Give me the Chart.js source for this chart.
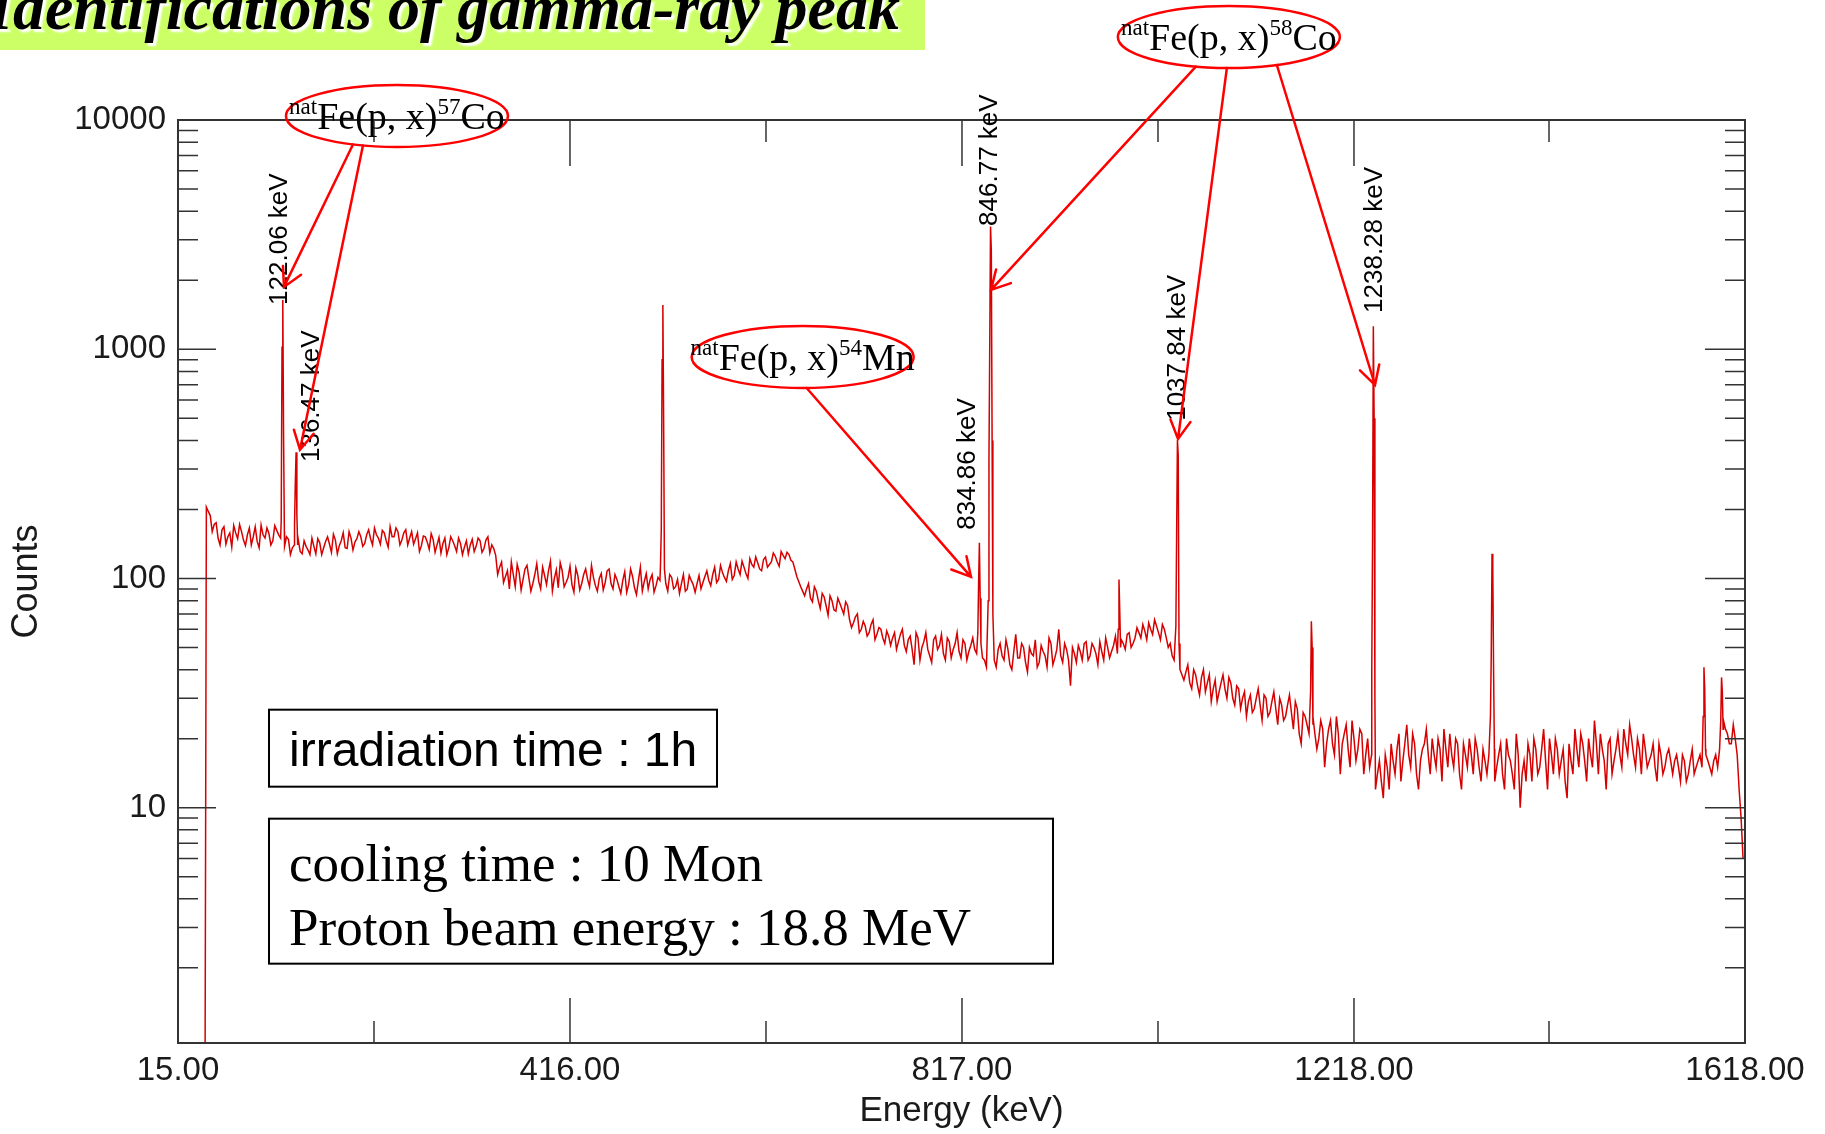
<!DOCTYPE html>
<html>
<head>
<meta charset="utf-8">
<title>Identifications of gamma-ray peak</title>
<script src="https://cdn.jsdelivr.net/npm/chart.js@4.4.1/dist/chart.umd.min.js"></script>
<style>
  html, body { margin: 0; padding: 0; background: #ffffff; }
  #wrap { width: 1825px; height: 1134px; overflow: hidden; }
</style>
</head>
<body>
<div id="wrap"><canvas id="gammaChart" width="1825" height="1134"></canvas></div>
<script>
// background of the spectrum, one reading every 4 keV from 44 keV
const bgStartKeV = 44;
const bgStepKeV = 4;
const bgCounts = [
  205, 188, 172, 150, 163, 141, 158, 170, 149, 160, 139, 166, 152, 145, 171, 150, 157, 146, 162, 150, 138, 148, 136, 150, 131,
  146, 133, 150, 128, 143, 136, 152, 130, 147, 139, 158, 135, 150, 144, 160, 138, 155, 149, 166, 150, 162, 146, 168, 152, 160,
  147, 163, 150, 141, 158, 139, 152, 134, 148, 140, 129, 150, 136, 146, 131, 142, 137, 128, 148, 138, 146, 135, 152, 140, 126,
  112, 96, 108, 118, 92, 106, 99, 114, 88, 104, 97, 112, 94, 119, 100, 91, 108, 96, 113, 87, 103, 95, 110, 92, 101,
  88, 105, 96, 110, 90, 99, 86, 107, 94, 102, 85, 112, 97, 90, 104, 93, 98, 96, 88, 101, 92, 86, 104, 90, 98,
  87, 103, 96, 108, 93, 112, 99, 106, 97, 116, 103, 110, 119, 105, 122, 112, 117, 108, 124, 115, 129, 118, 131, 122, 127,
  118, 102, 92, 84, 95, 79, 88, 74, 83, 69, 80, 72, 78, 70, 76, 61, 68, 58, 65, 56, 63, 54, 61, 55, 59,
  51, 58, 53, 60, 48, 56, 42, 55, 50, 58, 46, 54, 49, 57, 44, 53, 49, 58, 45, 52, 48, 55, 47, 50, 44,
  50, 48, 41, 52, 44, 49, 40, 57, 45, 50, 39, 47, 54, 43, 48, 41, 52, 45, 60, 43, 49, 34, 47, 51, 44,
  53, 46, 50, 42, 48, 55, 45, 51, 47, 54, 49, 58, 52, 61, 55, 59, 64, 57, 62, 54, 60, 50, 46, 48, 40,
  36, 42, 33, 38, 31, 40, 35, 29, 36, 32, 38, 30, 35, 28, 33, 30, 25, 31, 27, 33, 24, 30, 26, 32, 23,
  28, 25, 31, 22, 27, 19, 25, 21, 23, 18, 24, 15, 22, 19, 25, 14, 21, 18, 24, 16, 22, 14, 20, 17, 12,
  16, 11, 15, 19, 14, 21, 16, 23, 15, 19, 12, 18, 22, 14, 17, 20, 13, 18, 21, 15, 19, 12, 17, 20, 14,
  18, 13, 16, 17, 15, 15, 19, 12, 17, 14, 21, 10, 16, 19, 13, 18, 15, 22, 12, 17, 20, 14, 18, 11, 16,
  22, 15, 19, 13, 17, 24, 14, 18, 12, 20, 16, 21, 15, 19, 23, 17, 20, 14, 18, 16, 19, 13, 17, 15, 18,
  14, 17, 13, 16, 14, 18, 15, 17, 19, 16, 14, 17, 18, 24, 21, 19, 20, 12, 6
];

// readings in between, every 4 keV from 46 keV
const bgMidStartKeV = 46;
const bgCountsMid = [
  196, 160, 175, 140, 168, 152, 137, 158, 172, 147, 155, 140, 168, 136, 155, 166, 140, 170, 155, 150, 152, 127, 140, 148, 128,
  138, 127, 138, 149, 127, 145, 141, 156, 128, 146, 136, 160, 133, 149, 152, 142, 163, 140, 155, 141, 158, 137, 152, 166, 140,
  158, 140, 160, 149, 131, 153, 144, 157, 130, 151, 142, 127, 152, 139, 150, 127, 146, 140, 131, 150, 130, 147, 129, 135, 104,
  118, 102, 90, 104, 115, 89, 110, 100, 95, 116, 90, 103, 108, 88, 109, 117, 92, 101, 94, 111, 89, 104, 99, 114, 93,
  100, 89, 108, 95, 104, 92, 98, 87, 110, 91, 98, 88, 105, 99, 87, 101, 97, 95, 104, 90, 99, 95, 88, 103, 94,
  95, 90, 102, 98, 104, 96, 114, 101, 108, 99, 118, 104, 112, 100, 115, 124, 110, 121, 112, 118, 125, 113, 126, 130, 120,
  110, 97, 88, 90, 82, 92, 80, 86, 76, 84, 73, 82, 74, 79, 66, 64, 70, 60, 62, 58, 66, 57, 60, 52, 56,
  55, 49, 57, 51, 54, 49, 58, 44, 53, 49, 43, 56, 51, 47, 55, 45, 52, 48, 54, 44, 51, 49, 50, 45, 41,
  50, 44, 49, 46, 54, 42, 48, 45, 52, 43, 50, 46, 41, 51, 46, 55, 42, 49, 46, 52, 44, 50, 43, 48, 52,
  44, 52, 47, 53, 44, 50, 48, 56, 50, 52, 57, 50, 55, 58, 63, 54, 60, 66, 58, 63, 55, 52, 44, 45, 38,
  39, 35, 40, 34, 37, 32, 38, 33, 29, 35, 33, 37, 30, 34, 27, 32, 29, 26, 30, 28, 31, 25, 29, 27, 30,
  24, 28, 26, 29, 21, 26, 23, 24, 21, 20, 22, 19, 24, 17, 21, 19, 23, 15, 20, 18, 21, 17, 15, 16, 14,
  13, 17, 12, 16, 18, 13, 19, 17, 21, 14, 16, 19, 17, 20, 15, 18, 22, 15, 17, 20, 14, 19, 15, 17, 20,
  15, 18, 14, 16, 13, 17, 14, 20, 16, 12, 17, 14, 13, 17, 20, 14, 18, 16, 20, 14, 18, 16, 13, 19, 14,
  18, 21, 16, 20, 15, 19, 21, 16, 19, 14, 18, 17, 22, 17, 20, 15, 18, 21, 15, 17, 15, 19, 14, 17, 16,
  16, 15, 17, 13, 16, 14, 16, 15, 17, 15, 16, 15, 20, 22, 19, 23, 17, 9
];

// narrow peaks: channel energies (keV) and counts, one group per peak
const peakKeV = [
  [42.6, 43.4],
  [120.6, 121.4, 122.2, 123.0, 123.8],
  [134.2, 135.0, 135.8, 136.6, 137.4],
  [508.6, 509.4, 510.2, 511.0, 511.8, 512.6],
  [833.2, 834.0, 834.8, 835.6, 836.4],
  [843.8, 844.6, 845.4, 846.2, 847.0, 847.8, 848.6],
  [976.8, 977.6, 978.4, 979.2],
  [1035.8, 1036.6, 1037.4, 1038.2, 1039.0],
  [1173.6, 1174.4, 1175.2, 1176.0],
  [1236.2, 1237.0, 1237.8, 1238.6, 1239.4],
  [1357.6, 1358.4, 1359.2, 1360.0, 1360.8, 1361.6],
  [1575.2, 1576.0, 1576.8, 1577.6],
  [1593.2, 1594.0, 1594.8, 1595.6]
];
const peakCounts = [
  [0.5, 15],
  [180, 1020, 1640, 420, 160],
  [170, 260, 355, 190, 140],
  [115, 165, 900, 1560, 480, 110],
  [58, 96, 143, 82, 52],
  [80, 336, 1070, 3430, 2700, 400, 70],
  [60, 99, 72, 50],
  [62, 162, 402, 345, 52],
  [32, 65, 50, 25],
  [40, 146, 1260, 500, 30],
  [25, 45, 128, 110, 40, 18],
  [25, 41, 33, 18],
  [24, 37, 32, 22]
];

// axes
const xTickValues = [15, 416, 817, 1218, 1618];
const xTickLabels = ["15.00", "416.00", "817.00", "1218.00", "1618.00"];
const xMinorValues = [215.5, 616.5, 1017.5, 1417.5];
const yTickValues = [10, 100, 1000, 10000];
const yTickLabels = ["10", "100", "1000", "10000"];

// peak labels (rotated), anchored where the text starts
const labelText = ["122.06 keV", "136.47 keV", "834.86 keV", "846.77 keV", "1037.84 keV", "1238.28 keV"];
const labelKeV = [118.8, 151.8, 822.6, 845.6, 1038, 1239.5];
const labelCounts = [1561, 322, 163, 3450, 487, 1440];

// reactions in the red ellipses
const reactionPre = ["nat", "nat", "nat"];
const reactionMain = ["Fe(p, x)", "Fe(p, x)", "Fe(p, x)"];
const reactionMass = ["57", "58", "54"];
const reactionElement = ["Co", "Co", "Mn"];
const reactionKeV = [239, 1090, 654];
const reactionCounts = [10410, 23010, 925];

// arrows from an ellipse to a peak
const arrowFrom = [0, 0, 1, 1, 1, 2];
const arrowTailDx = [-44, -34, -33, -2, 48, 4];
const arrowTipKeV = [123.4, 139.8, 846.7, 1038, 1239.5, 826.2];
const arrowTipCounts = [1870, 364, 1815, 406, 698, 101.6];

// text boxes
const boxLines = [["irradiation time : 1h"], ["cooling time : 10 Mon", "Proton beam energy : 18.8 MeV"]];
const boxKeV = [108.1, 108.1];
const boxCounts = [26.75, 8.95];

const sans = "'Liberation Sans', Arial, sans-serif";
const serif = "'Liberation Serif', 'Times New Roman', serif";

// merge background and peak channels into one spectrum
const spectrum = [];
const insidePeak = e => peakKeV.some(g => e > g[0] && e < g[g.length - 1]);
bgCounts.forEach((c, i) => {
  const e = bgStartKeV + i * bgStepKeV;
  if (!insidePeak(e)) spectrum.push({ x: e, y: c });
});
bgCountsMid.forEach((c, i) => {
  const e = bgMidStartKeV + i * bgStepKeV;
  if (!insidePeak(e)) spectrum.push({ x: e, y: c });
});
peakKeV.forEach((g, j) => g.forEach((e, k) => spectrum.push({ x: e, y: peakCounts[j][k] })));
spectrum.sort((a, b) => a.x - b.x);

// frame and inward tick marks like the original MCA display
const frameTicks = {
  id: "frameTicks",
  afterDatasetsDraw(chart) {
    const { ctx, chartArea: a, scales: { x, y } } = chart;
    ctx.save();
    ctx.strokeStyle = "#333333";
    ctx.lineWidth = 1.5;
    ctx.beginPath();
    for (let d = 1; d < 10000; d *= 10) {
      for (let m = 2; m <= 9; m++) {
        const py = y.getPixelForValue(d * m);
        if (py > a.bottom || py < a.top) continue;
        ctx.moveTo(a.left, py); ctx.lineTo(a.left + 20, py);
        ctx.moveTo(a.right, py); ctx.lineTo(a.right - 20, py);
      }
    }
    yTickValues.forEach(v => {
      const py = y.getPixelForValue(v);
      ctx.moveTo(a.left, py); ctx.lineTo(a.left + 38, py);
      ctx.moveTo(a.right, py); ctx.lineTo(a.right - 40, py);
    });
    xTickValues.forEach(v => {
      const px = x.getPixelForValue(v);
      ctx.moveTo(px, a.bottom); ctx.lineTo(px, a.bottom - 45);
      ctx.moveTo(px, a.top); ctx.lineTo(px, a.top + 46);
    });
    xMinorValues.forEach(v => {
      const px = x.getPixelForValue(v);
      ctx.moveTo(px, a.bottom); ctx.lineTo(px, a.bottom - 22);
      ctx.moveTo(px, a.top); ctx.lineTo(px, a.top + 22);
    });
    ctx.stroke();
    ctx.lineWidth = 2;
    ctx.strokeRect(a.left, a.top, a.right - a.left, a.bottom - a.top);
    ctx.restore();
  }
};

const annotations = {
  id: "annotations",
  afterDraw(chart) {
    const { ctx, scales: { x, y } } = chart;
    ctx.save();

    // title bar
    ctx.fillStyle = "#ccff66";
    ctx.fillRect(0, 0, 925, 50);
    ctx.save();
    ctx.font = "bold italic 64px " + serif;
    ctx.textAlign = "left";
    ctx.textBaseline = "alphabetic";
    ctx.shadowColor = "#ffffff";
    ctx.shadowOffsetX = 3;
    ctx.shadowOffsetY = 3;
    ctx.shadowBlur = 2;
    ctx.fillStyle = "#000000";
    ctx.fillText("Identifications of gamma-ray peak", -12, 29);
    ctx.restore();

    // peak labels
    ctx.fillStyle = "#000000";
    ctx.font = "26px " + sans;
    ctx.textAlign = "left";
    ctx.textBaseline = "middle";
    labelText.forEach((t, i) => {
      ctx.save();
      ctx.translate(x.getPixelForValue(labelKeV[i]), y.getPixelForValue(labelCounts[i]));
      ctx.rotate(-Math.PI / 2);
      ctx.fillText(t, 0, 0);
      ctx.restore();
    });

    // ellipses with reaction names
    const rx = 111, ry = 31;
    const centres = reactionKeV.map((k, i) => [x.getPixelForValue(k), y.getPixelForValue(reactionCounts[i])]);
    ctx.strokeStyle = "#ff0000";
    ctx.lineWidth = 2.5;
    ctx.textBaseline = "alphabetic";
    centres.forEach(([cx, cy], i) => {
      ctx.beginPath();
      ctx.ellipse(cx, cy, rx, ry, 0, 0, Math.PI * 2);
      ctx.stroke();
      const small = "23px " + serif, big = "38px " + serif;
      ctx.font = small;
      const w1 = ctx.measureText(reactionPre[i]).width;
      const w3 = ctx.measureText(reactionMass[i]).width;
      ctx.font = big;
      const w2 = ctx.measureText(reactionMain[i]).width;
      const w4 = ctx.measureText(reactionElement[i]).width;
      let px = cx - (w1 + w2 + w3 + w4) / 2;
      const base = cy + 13;
      ctx.fillStyle = "#000000";
      ctx.font = small; ctx.fillText(reactionPre[i], px, base - 15); px += w1;
      ctx.font = big; ctx.fillText(reactionMain[i], px, base); px += w2;
      ctx.font = small; ctx.fillText(reactionMass[i], px, base - 15); px += w3;
      ctx.font = big; ctx.fillText(reactionElement[i], px, base);
    });

    // arrows
    ctx.strokeStyle = "#ff0000";
    ctx.lineWidth = 2.5;
    ctx.lineCap = "round";
    arrowFrom.forEach((r, i) => {
      const [cx, cy] = centres[r];
      const dx = arrowTailDx[i];
      const tx = cx + dx;
      const ty = cy + ry * Math.sqrt(1 - (dx / rx) * (dx / rx));
      const hx = x.getPixelForValue(arrowTipKeV[i]);
      const hy = y.getPixelForValue(arrowTipCounts[i]);
      const ang = Math.atan2(ty - hy, tx - hx);
      ctx.beginPath();
      ctx.moveTo(tx, ty);
      ctx.lineTo(hx, hy);
      ctx.moveTo(hx + 21 * Math.cos(ang + 0.5), hy + 21 * Math.sin(ang + 0.5));
      ctx.lineTo(hx, hy);
      ctx.lineTo(hx + 21 * Math.cos(ang - 0.5), hy + 21 * Math.sin(ang - 0.5));
      ctx.stroke();
    });

    // text boxes
    const boxSize = [[448, 77], [784, 145]];
    const boxFont = ["48px " + sans, "53px " + serif];
    const boxBase = [[56], [62, 126]];
    boxLines.forEach((lines, i) => {
      const bx = x.getPixelForValue(boxKeV[i]);
      const by = y.getPixelForValue(boxCounts[i]);
      ctx.fillStyle = "#ffffff";
      ctx.fillRect(bx, by, boxSize[i][0], boxSize[i][1]);
      ctx.strokeStyle = "#000000";
      ctx.lineWidth = 2;
      ctx.strokeRect(bx, by, boxSize[i][0], boxSize[i][1]);
      ctx.fillStyle = "#000000";
      ctx.font = boxFont[i];
      lines.forEach((t, k) => ctx.fillText(t, bx + 20, by + boxBase[i][k]));
    });

    ctx.restore();
  }
};

const ctx = document.getElementById("gammaChart").getContext("2d");
new Chart(ctx, {
  type: "line",
  data: {
    datasets: [{
      label: "Counts",
      data: spectrum,
      borderColor: "rgb(214, 0, 0)",
      borderWidth: 1.5,
      pointRadius: 0,
      tension: 0,
      fill: false
    }]
  },
  options: {
    responsive: false,
    animation: false,
    layout: { padding: { left: 0, top: 120, right: 80, bottom: 0 } },
    plugins: {
      legend: { display: false },
      tooltip: { enabled: false }
    },
    scales: {
      x: {
        type: "linear",
        min: 15,
        max: 1618,
        afterBuildTicks: s => { s.ticks = xTickValues.map(v => ({ value: v })); },
        afterFit: s => { s.height = 91; },
        grid: { display: false, drawTicks: false },
        border: { display: false },
        ticks: {
          callback: (v, i) => xTickLabels[i],
          autoSkip: false,
          maxRotation: 0,
          padding: 8,
          color: "#1a1a1a",
          font: { family: sans, size: 33 }
        },
        title: {
          display: true,
          text: "Energy (keV)",
          color: "#1a1a1a",
          font: { family: sans, size: 35 },
          padding: { top: 0, bottom: 2 }
        }
      },
      y: {
        type: "logarithmic",
        min: 0.94,
        max: 10000,
        afterBuildTicks: s => { s.ticks = yTickValues.map(v => ({ value: v })); },
        afterFit: s => { s.width = 178; },
        grid: { display: false, drawTicks: false },
        border: { display: false },
        ticks: {
          callback: (v, i) => yTickLabels[i],
          autoSkip: false,
          padding: 12,
          color: "#1a1a1a",
          font: { family: sans, size: 33 }
        },
        title: {
          display: true,
          text: "Counts",
          color: "#1a1a1a",
          font: { family: sans, size: 36 },
          padding: { top: 5, bottom: 0 }
        }
      }
    }
  },
  plugins: [frameTicks, annotations]
});
</script>
</body>
</html>
